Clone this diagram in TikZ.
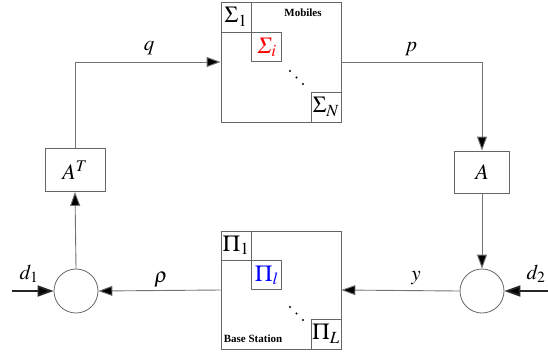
\documentclass[tikz,border=0pt]{standalone}
\usepackage{amsmath}
\usepackage{mathptmx}
\usepackage[no-math]{fontspec}
\setmainfont{Liberation Serif}
\usetikzlibrary{arrows.meta}
\begin{document}
\begin{tikzpicture}[x=1pt,y=-1pt,
  blk/.style={draw=black!60, line width=0.8pt, inner sep=0pt},
  sub/.style={draw=black!60, line width=0.8pt, inner sep=0pt, minimum width=30pt, minimum height=30pt, font=\fontsize{23}{25}\selectfont},
  sumnode/.style={circle, draw=black!60, line width=0.8pt, minimum size=44pt, inner sep=0pt},
  conn/.style={draw=black!55, line width=0.9pt, -{Triangle[length=14pt,width=10pt,fill=black]}},
  ext/.style={draw=black!85, line width=1.8pt, -{Triangle[length=16pt,width=11pt,fill=black]}},
  lab/.style={font=\fontsize{21}{23}\selectfont},
  ttl/.style={font=\bfseries\fontsize{11}{12}\selectfont}
]
\useasboundingbox (0,0) rectangle (548,354);
% Mobiles
\node[blk, minimum width=120pt, minimum height=120pt] (mob) at (281,62) {};
\node[sub, anchor=north west] (s1) at (mob.north west) {$\Sigma_1$};
\node[sub, anchor=north west, minimum height=29pt] (si) at (s1.south east) {\color{red}$\varSigma_{i}$};
\node[sub, anchor=south east] (sn) at (mob.south east) {$\Sigma_N$};
\node[ttl] (mobt) at (303,13) {Mobiles};
\fill (290,71) circle (1.1pt) (296.5,77.5) circle (1.1pt) (303,84) circle (1.1pt);
% Base station
\node[blk, minimum width=120pt, minimum height=118pt] (bs) at (281,290) {};
\node[sub, anchor=north west, minimum height=29pt] (p1) at (bs.north west) {$\Pi_1$};
\node[sub, anchor=north west, minimum height=29pt] (pl) at (p1.south east) {\color{blue}$\Pi_{l}$};
\node[sub, anchor=south east] (pL) at (bs.south east) {$\Pi_L$};
\node[ttl] (bst) at (253,339) {Base Station};
\fill (290,307) circle (1.1pt) (296.5,313.5) circle (1.1pt) (303,320) circle (1.1pt);
% gains
\node[blk, minimum width=60pt, minimum height=43pt, font=\fontsize{22}{24}\selectfont] (AT) at (75,170) {$A^T$};
\node[blk, minimum width=55pt, minimum height=42pt, font=\fontsize{22}{24}\selectfont] (A) at (482,172) {$A$};
% summing junctions
\node[sumnode] (c1) at (76,291) {};
\node[sumnode] (c2) at (482,291) {};
\coordinate (d1s) at (12,291);
\coordinate (d2s) at (548,291);
% connectors
\draw[conn] (AT.north) |- (mob.west);
\draw[conn] (mob.east) -| (A.north);
\draw[conn] (A.south) -- (c2.north);
\draw[conn] (c2.west) -- (bs.east);
\draw[conn] (bs.west) -- (c1.east);
\draw[conn] (c1.north) -- (AT.south);
\draw[ext] (d1s) -- (c1.west);
\draw[ext] (d2s) -- (c2.east);
% labels
\node[lab] (lq) at (149,48) {$q$};
\node[lab] (lp) at (411,49) {$p$};
\node[lab] (lr) at (161,280) {$\rho$};
\node[lab] (ly) at (416,278) {$y$};
\node[lab] (ld1) at (29,274) {$d_1$};
\node[lab] (ld2) at (536,274) {$d_2$};
\end{tikzpicture}
\end{document}
